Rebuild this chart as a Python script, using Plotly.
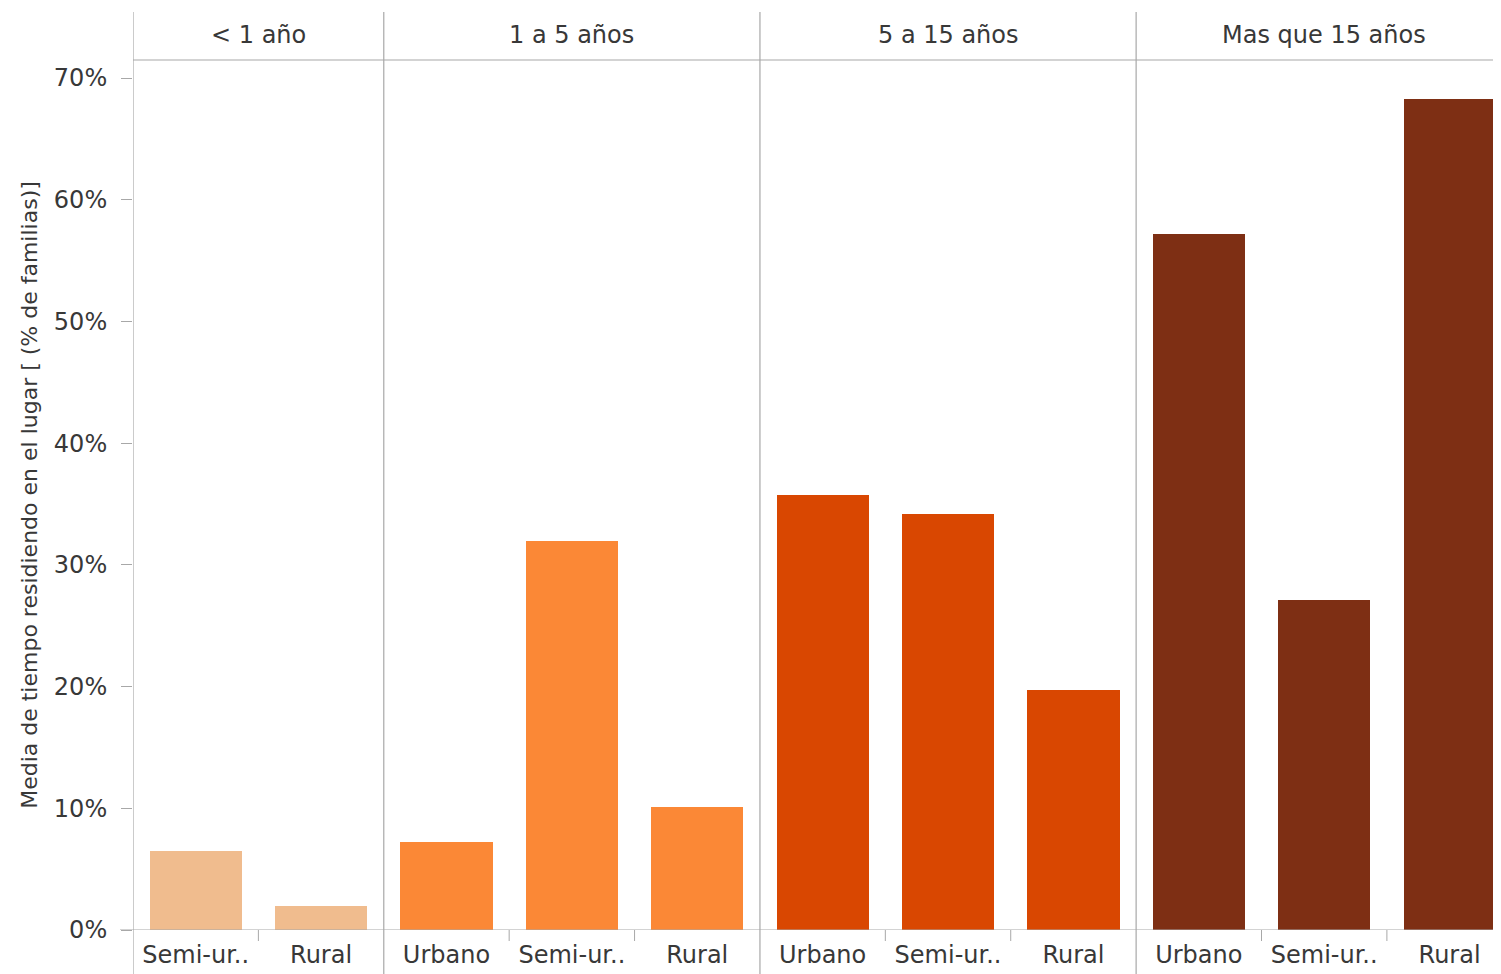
import plotly.graph_objects as go

groups = ["< 1 año", "1 a 5 años", "5 a 15 años", "Mas que 15 años"]
group_areas = [
    ["Semi-ur..", "Rural"],
    ["Urbano", "Semi-ur..", "Rural"],
    ["Urbano", "Semi-ur..", "Rural"],
    ["Urbano", "Semi-ur..", "Rural"],
]
group_values = [
    [6.5, 2.0],
    [7.25, 32.0, 10.1],
    [35.7, 34.2, 19.7],
    [57.2, 27.1, 68.3],
]
group_colors = ["#F0BC8E", "#FB8836", "#D94701", "#7E2F14"]
y_ticks = [0, 10, 20, 30, 40, 50, 60, 70]
y_title = "Media de tiempo residiendo en el lugar [ (% de familias)]"

FONT = "DejaVu Sans"
TXT = "#383838"
LINE = "#A8A8A8"

fig = go.Figure()
cat_ids, cat_text = [], []
boundaries = [-0.5]
minor_bounds = []
idx = 0
for g, areas, vals, col in zip(groups, group_areas, group_values, group_colors):
    ids = [f"{g}|{a}" for a in areas]
    fig.add_trace(go.Bar(x=ids, y=vals, marker=dict(color=col, line=dict(width=0)),
                         width=0.735, showlegend=False, name=g,
                         hovertemplate="%{y:.1f}%<extra>" + g + "</extra>"))
    cat_ids += ids
    cat_text += areas
    for k in range(1, len(areas)):
        minor_bounds.append(idx + k - 0.5)
    idx += len(areas)
    boundaries.append(idx - 0.5)

# page body has an 8px margin, so the figure is shrunk/shifted accordingly
W, H = 1493, 966
L, R, T, B = 125, 0, 52, 44
plot_h = H - T - B
x_max = 10.41

shapes = []
# panel dividers
for b in boundaries[:-1]:
    shapes.append(dict(type="line", xref="x", yref="paper", x0=b, x1=b,
                       y0=-(B) / plot_h, y1=1 + (T - 4) / plot_h,
                       line=dict(color=LINE, width=1.2), layer="above"))
# header line
shapes.append(dict(type="line", xref="paper", yref="paper", x0=0, x1=1, y0=1, y1=1,
                   line=dict(color=LINE, width=1.2), layer="above"))
# baseline
shapes.append(dict(type="line", xref="paper", yref="y", x0=-13 / (W - L - R), x1=1, y0=0, y1=0,
                   line=dict(color=LINE, width=1.2), layer="above"))
# small ticks between categories
for mb in minor_bounds:
    shapes.append(dict(type="line", xref="x", yref="paper", x0=mb, x1=mb,
                       y0=0, y1=-11 / plot_h,
                       line=dict(color=LINE, width=1), layer="above"))

annotations = []
start = 0
for g, areas in zip(groups, group_areas):
    center = start + (len(areas) - 1) / 2
    annotations.append(dict(x=center, y=1 + 25 / plot_h, xref="x", yref="paper",
                            text=g, showarrow=False, yanchor="middle",
                            font=dict(family=FONT, size=24, color=TXT)))
    start += len(areas)

fig.update_layout(
    width=W, height=H,
    margin=dict(l=L, r=R, t=T, b=B, pad=0),
    paper_bgcolor="white", plot_bgcolor="white",
    bargap=0,
    shapes=shapes, annotations=annotations,
    xaxis=dict(type="category", categoryorder="array", categoryarray=cat_ids,
               tickmode="array", tickvals=cat_ids, ticktext=cat_text,
               range=[-0.5, x_max], showgrid=False, zeroline=False, showline=False,
               ticks="", tickfont=dict(family=FONT, size=24, color=TXT),
               ticklabelstandoff=8),
    yaxis=dict(range=[0, 71.48], tickvals=y_ticks, ticktext=[f"{v}%" for v in y_ticks],
               showgrid=False, zeroline=False, showline=False,
               ticks="outside", ticklen=11, tickcolor=LINE, tickwidth=1,
               tickfont=dict(family=FONT, size=24, color=TXT), ticklabelstandoff=9,
               title=dict(text=y_title, font=dict(family=FONT, size=22, color=TXT), standoff=10)),
    font=dict(family=FONT, color=TXT),
)

fig.write_html("out.html")
